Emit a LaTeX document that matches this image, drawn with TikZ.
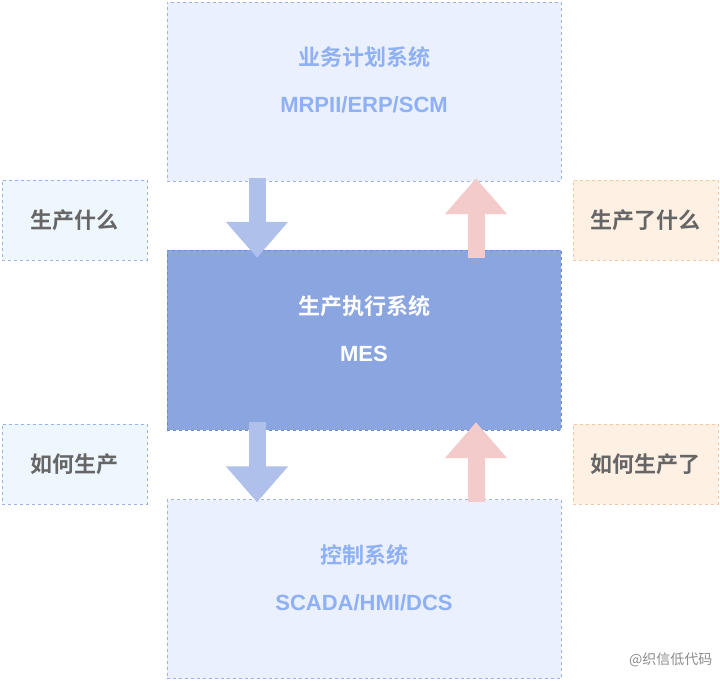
\documentclass[tikz,border=0pt]{standalone}
\usepackage{fontspec}
\setmainfont{Liberation Sans}
\newfontfamily\cjk[BoldFont={Noto Sans CJK SC Bold}]{Noto Sans CJK SC}
\usetikzlibrary{arrows.meta, positioning}
\definecolor{sysfill}{HTML}{EAF0FD}
\definecolor{sysline}{HTML}{9DB1E6}
\definecolor{systext}{HTML}{8FB0F5}
\definecolor{mesfill}{HTML}{8AA5E0}
\definecolor{mesline}{HTML}{6C88CF}
\definecolor{qfill}{HTML}{EEF6FE}
\definecolor{afill}{HTML}{FEF1E4}
\definecolor{aline}{HTML}{F2C9A6}
\definecolor{downc}{HTML}{AFC1EA}
\definecolor{upc}{HTML}{F3CBCB}
\tikzset{
  sysbox/.style={draw=sysline, dashed, fill=sysfill, minimum width=394pt, minimum height=179pt, text depth=23pt, text=systext, font=\cjk\bfseries\fontsize{22}{47}\selectfont, align=center},
  mesbox/.style={draw=mesline, dashed, fill=mesfill, minimum width=394pt, minimum height=180pt, text depth=23pt, text=white, font=\cjk\bfseries\fontsize{22}{47}\selectfont, align=center},
  qbox/.style={draw=sysline, dashed, fill=qfill, minimum width=145pt, minimum height=80pt, text=black!60, font=\cjk\bfseries\fontsize{22}{26}\selectfont},
  abox/.style={draw=aline, dashed, fill=afill, minimum width=145pt, minimum height=80pt, text=black!60, font=\cjk\bfseries\fontsize{22}{26}\selectfont},
  flowdown/.style={draw=downc, line width=17pt, -{Triangle[width=60pt,length=36pt]}},
  flowup/.style={draw=upc, line width=17pt, -{Triangle[width=60pt,length=36pt]}}
}
\begin{document}
\begin{tikzpicture}[x=1pt, y=-1pt]
    \useasboundingbox (0,0) rectangle (720,680);
    % system layers
    \node[sysbox] (plan) at (364,91.5) {业务计划系统\\{\rmfamily\bfseries MRPII/ERP/SCM}};
    \node[mesbox] (mes) at (364,340) {生产执行系统\\{\rmfamily\bfseries MES}};
    \node[sysbox] (ctrl) at (364,589) {控制系统\\{\rmfamily\bfseries SCADA/HMI/DCS}};
    % questions and answers
    \node[qbox] (what) at (74.5,220) {生产什么};
    \node[qbox] (how) at (74.5,464) {如何生产};
    \node[abox] (done) at (645.5,220) {生产了什么};
    \node[abox] (howdone) at (645.5,464) {如何生产了};
    % arrows between layers
    \coordinate (d1s) at ([yshift=3pt]plan.south -| 257,0);
    \coordinate (d1e) at ([yshift=-8pt]mes.north -| 257,0);
    \coordinate (u1s) at ([yshift=-8pt]mes.north -| 476,0);
    \coordinate (u1e) at ([yshift=3pt]plan.south -| 476,0);
    \coordinate (d2s) at ([yshift=8pt]mes.south -| 257,0);
    \coordinate (d2e) at ([yshift=-3pt]ctrl.north -| 257,0);
    \coordinate (u2s) at ([yshift=-3pt]ctrl.north -| 476,0);
    \coordinate (u2e) at ([yshift=8pt]mes.south -| 476,0);
    \draw[flowdown] (d1s) -- (d1e);
    \draw[flowup] (u1s) -- (u1e);
    \draw[flowdown] (d2s) -- (d2e);
    \draw[flowup] (u2s) -- (u2e);
    \node[text=black!45, font=\cjk\fontsize{14}{16}\selectfont, anchor=south east] (mark) at (716,670) {@织信低代码};
\end{tikzpicture}
\end{document}
